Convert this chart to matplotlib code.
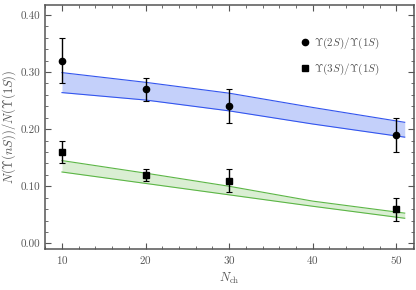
import matplotlib
matplotlib.use("Agg")
import matplotlib.pyplot as plt
from matplotlib.lines import Line2D
from matplotlib.ticker import MultipleLocator, FormatStrFormatter

# measured ratios
n_ch = [10, 20, 30, 50]
r2s = [0.32, 0.27, 0.24, 0.19]
r2s_err = [0.04, 0.02, 0.03, 0.03]
r3s = [0.16, 0.12, 0.11, 0.06]
r3s_err = [0.02, 0.01, 0.02, 0.02]

# model bands
band_x = [10, 20, 30, 40, 51]
band2_hi = [0.299, 0.282, 0.263, 0.238, 0.212]
band2_lo = [0.264, 0.251, 0.232, 0.209, 0.186]
band3_hi = [0.145, 0.123, 0.100, 0.074, 0.053]
band3_lo = [0.125, 0.105, 0.085, 0.065, 0.044]

labels = [r'$\Upsilon(2S)/\Upsilon(1S)$', r'$\Upsilon(3S)/\Upsilon(1S)$']

plt.rcParams['font.family'] = ['cmr10', 'DejaVu Serif']
plt.rcParams['mathtext.fontset'] = 'cm'
plt.rcParams['axes.formatter.use_mathtext'] = True
plt.rcParams['font.size'] = 8

gray = '#555555'

fig = plt.figure(figsize=(4.16, 2.90), dpi=100)
ax = fig.add_axes([0.108, 0.142, 0.886, 0.842])

ax.fill_between(band_x, band2_lo, band2_hi, color='#c4d0fa', lw=0)
ax.plot(band_x, band2_hi, color='#3355ee', lw=0.8)
ax.plot(band_x, band2_lo, color='#3355ee', lw=0.8)
ax.fill_between(band_x, band3_lo, band3_hi, color='#daeed3', lw=0)
ax.plot(band_x, band3_hi, color='#5cb646', lw=0.8)
ax.plot(band_x, band3_lo, color='#5cb646', lw=0.8)

ax.errorbar(n_ch, r2s, yerr=r2s_err, fmt='o', color='black', ms=4.5,
            elinewidth=1, capsize=2, capthick=0.8)
ax.errorbar(n_ch, r3s, yerr=r3s_err, fmt='s', color='black', ms=4.2,
            elinewidth=1, capsize=2, capthick=0.8)

ax.set_xlim(7.96, 52.05)
ax.set_ylim(-0.0095, 0.418)
ax.xaxis.set_major_locator(MultipleLocator(10))
ax.xaxis.set_minor_locator(MultipleLocator(2))
ax.yaxis.set_major_locator(MultipleLocator(0.1))
ax.yaxis.set_minor_locator(MultipleLocator(0.02))
ax.yaxis.set_major_formatter(FormatStrFormatter('%.2f'))
ax.tick_params(which='both', direction='in', top=True, right=True,
               color=gray, labelcolor=gray, labelsize=8)
ax.tick_params(which='major', length=4.5, width=0.8)
ax.tick_params(which='minor', length=2.5, width=0.6)
for s in ax.spines.values():
    s.set_color(gray)
    s.set_linewidth(1.1)

ax.set_xlabel(r'$N_{\rm ch}$', color=gray, fontsize=9)
ax.set_ylabel(r'$N(\Upsilon(nS))/N(\Upsilon(1S))$', color=gray, fontsize=9,
              labelpad=2)

handles = [Line2D([], [], ls='none', marker='o', color='black', ms=4.5),
           Line2D([], [], ls='none', marker='s', color='black', ms=4.2)]
leg = ax.legend(handles, labels, loc='upper left',
                bbox_to_anchor=(0.691, 0.874), frameon=False,
                borderpad=0, borderaxespad=0, handletextpad=0.3,
                labelspacing=1.0, fontsize=8, handlelength=1.0)
for t in leg.get_texts():
    t.set_color(gray)

fig.savefig('out.png', dpi=100)
